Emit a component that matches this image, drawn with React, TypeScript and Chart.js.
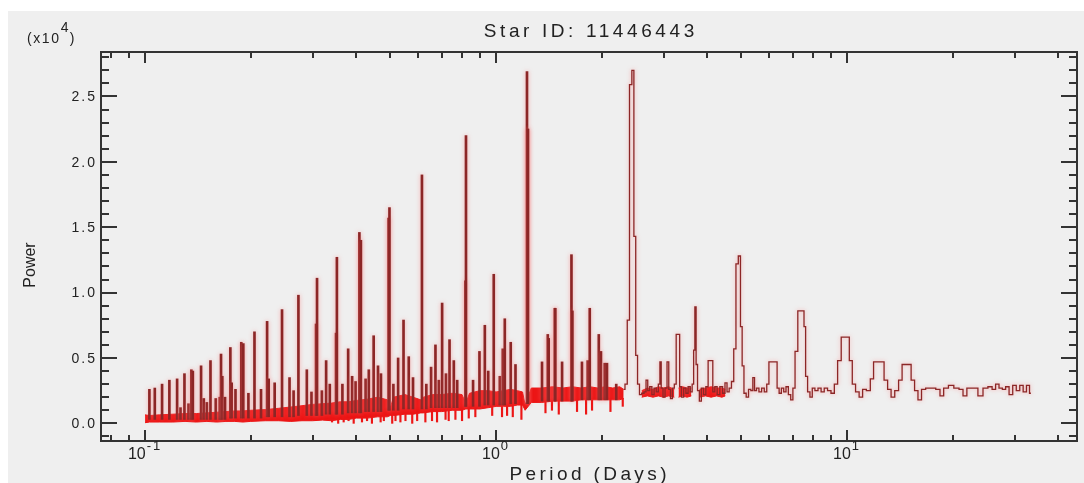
import React, { useEffect, useRef } from 'react';
import { Chart, registerables } from 'chart.js';

Chart.register(...registerables);

// ---------- text ----------
const TITLE = 'Star ID: 11446443';
const X_TITLE = 'Period (Days)';
const Y_TITLE = 'Power';
const Y_MULT_BASE = '(x10';
const Y_MULT_EXP = '4';
const Y_MULT_CLOSE = ')';

// ---------- axes ----------
const X_MIN = 0.0749;
const X_MAX = 45.2;
const Y_MIN = -0.135;
const Y_MAX = 2.84;
const X_MAJOR = [0.1, 1, 10];
const X_MAJOR_BASE = ['10', '10', '10'];
const X_MAJOR_EXP = ['-1', '0', '1'];
const X_MINOR = [0.08, 0.09, 0.2, 0.3, 0.4, 0.5, 0.6, 0.7, 0.8, 0.9, 2, 3, 4, 5, 6, 7, 8, 9, 20, 30, 40];
const Y_MAJOR = [0, 0.5, 1, 1.5, 2, 2.5];
const Y_LABELS = ['0.0', '0.5', '1.0', '1.5', '2.0', '2.5'];
const Y_MINOR = [-0.1, 0.1, 0.2, 0.3, 0.4, 0.6, 0.7, 0.8, 0.9, 1.1, 1.2, 1.3, 1.4, 1.6, 1.7, 1.8, 1.9, 2.1, 2.2, 2.3, 2.4, 2.6, 2.7, 2.8];

// ---------- dense noise band (x10^4) ----------
const bandPeriods = [0.1, 0.103, 0.11, 0.12, 0.13, 0.14, 0.15, 0.16, 0.17, 0.18, 0.19, 0.2, 0.22, 0.24, 0.26, 0.28, 0.3, 0.32, 0.34, 0.36, 0.38, 0.4, 0.43, 0.46, 0.49, 0.5, 0.51, 0.55, 0.58, 0.61, 0.62, 0.66, 0.7, 0.75, 0.8, 0.82, 0.84, 0.9, 0.95, 1.0, 1.05, 1.1, 1.15, 1.19, 1.21, 1.26, 1.35, 1.45, 1.55, 1.65, 1.75, 1.85, 1.95, 2.05, 2.15, 2.25, 2.31];
const bandTop = [0.065, 0.06, 0.065, 0.07, 0.075, 0.075, 0.08, 0.085, 0.09, 0.095, 0.095, 0.1, 0.105, 0.115, 0.125, 0.135, 0.145, 0.15, 0.155, 0.165, 0.165, 0.175, 0.185, 0.2, 0.18, 0.12, 0.2, 0.22, 0.2, 0.18, 0.2, 0.22, 0.22, 0.23, 0.22, 0.15, 0.23, 0.25, 0.25, 0.24, 0.25, 0.26, 0.25, 0.24, 0.14, 0.27, 0.27, 0.28, 0.27, 0.28, 0.27, 0.28, 0.27, 0.28, 0.27, 0.28, 0.26];
const bandBottom = [0.005, 0.01, 0.01, 0.01, 0.015, 0.01, 0.015, 0.01, 0.015, 0.015, 0.01, 0.015, 0.02, 0.02, 0.015, 0.02, 0.02, 0.025, 0.02, 0.03, 0.03, 0.04, 0.04, 0.05, 0.05, 0.06, 0.06, 0.07, 0.07, 0.08, 0.08, 0.09, 0.09, 0.1, 0.1, 0.11, 0.11, 0.11, 0.12, 0.13, 0.13, 0.13, 0.14, 0.14, 0.1, 0.16, 0.16, 0.17, 0.17, 0.17, 0.18, 0.18, 0.18, 0.18, 0.18, 0.18, 0.19];

// noisy patches in the long-period part (null = gap between patches)
const tailBandPeriods = [2.6, 2.7, 2.8, 2.9, 3.0, 3.1, 3.22, 3.27, 3.31, 3.4, 3.5, 3.6, 3.7, 3.8, 3.95, 4.1, 4.25, 4.4, 4.5];
const tailBandTop = [0.25, 0.27, 0.26, 0.28, 0.27, 0.28, 0.26, null, 0.27, 0.28, 0.27, 0.27, null, 0.26, 0.27, 0.28, 0.27, 0.27, 0.26];
const tailBandBottom = [0.2, 0.21, 0.2, 0.21, 0.2, 0.21, 0.2, null, 0.2, 0.21, 0.2, 0.21, null, 0.2, 0.21, 0.2, 0.21, 0.2, 0.21];

// downward noise excursions below the band
const dipPeriods = [0.341, 0.355, 0.368, 0.38, 0.393, 0.415, 0.429, 0.443, 0.469, 0.479, 0.506, 0.517, 0.534, 0.552, 0.577, 0.596, 0.629, 0.657, 0.679, 0.718, 0.733, 0.766, 0.8, 0.836, 0.873, 0.975, 1.04, 1.075, 1.116, 1.181, 1.383, 1.443, 1.509, 1.701, 1.805, 1.877, 2.118, 2.296];
const dipLows = [0.01, 0.0, 0.01, 0.02, 0.0, 0.01, 0.02, 0.0, 0.01, 0.02, 0.0, 0.02, 0.01, 0.02, 0.0, 0.02, 0.01, 0.02, 0.01, 0.03, 0.02, 0.03, 0.02, 0.04, 0.05, 0.06, 0.05, 0.06, 0.05, 0.03, 0.08, 0.1, 0.07, 0.09, 0.07, 0.1, 0.09, 0.13];
const dipTops = [0.03, 0.03, 0.03, 0.04, 0.04, 0.05, 0.05, 0.05, 0.06, 0.06, 0.07, 0.07, 0.08, 0.08, 0.08, 0.09, 0.09, 0.1, 0.1, 0.1, 0.1, 0.11, 0.11, 0.12, 0.12, 0.13, 0.14, 0.14, 0.14, 0.15, 0.17, 0.17, 0.17, 0.18, 0.18, 0.18, 0.19, 0.19];

// ---------- narrow periodogram spikes (x10^4) ----------
const spikePeriods = [0.1029, 0.1066, 0.1118, 0.1173, 0.1234, 0.1262, 0.1295, 0.133, 0.1355, 0.1368, 0.1444, 0.147, 0.15, 0.1536, 0.159, 0.1632, 0.1646, 0.166, 0.169, 0.175, 0.1765, 0.181, 0.188, 0.1905, 0.197, 0.205, 0.214, 0.2227, 0.225, 0.234, 0.2456, 0.258, 0.265, 0.2735, 0.289, 0.298, 0.307, 0.309, 0.319, 0.328, 0.336, 0.35, 0.352, 0.365, 0.379, 0.389, 0.398, 0.408, 0.412, 0.425, 0.434, 0.448, 0.461, 0.47, 0.494, 0.497, 0.51, 0.526, 0.545, 0.564, 0.58, 0.615, 0.633, 0.653, 0.672, 0.687, 0.702, 0.72, 0.737, 0.758, 0.775, 0.818, 0.821, 0.86, 0.897, 0.929, 0.95, 0.985, 1.025, 1.045, 1.059, 1.101, 1.136, 1.225, 1.229, 1.233, 1.352, 1.404, 1.412, 1.47, 1.475, 1.542, 1.64, 1.65, 1.757, 1.824, 1.849, 1.962, 1.99, 2.04, 2.07, 2.2];
const spikePowers = [0.26, 0.27, 0.3, 0.33, 0.34, 0.12, 0.38, 0.15, 0.41, 0.4, 0.44, 0.19, 0.16, 0.48, 0.19, 0.2, 0.53, 0.36, 0.2, 0.58, 0.31, 0.26, 0.62, 0.61, 0.23, 0.7, 0.26, 0.78, 0.34, 0.31, 0.87, 0.35, 0.25, 0.98, 0.41, 0.24, 0.76, 1.11, 0.25, 0.48, 0.3, 0.69, 1.27, 0.3, 0.57, 0.36, 0.32, 1.46, 1.4, 0.34, 0.41, 0.67, 0.44, 0.38, 1.57, 1.65, 0.3, 0.5, 0.79, 0.51, 0.35, 1.9, 0.3, 0.43, 0.6, 0.33, 0.92, 0.38, 0.64, 0.48, 0.33, 1.09, 2.2, 0.33, 0.55, 0.75, 0.4, 1.14, 0.36, 0.57, 0.8, 0.62, 0.45, 2.69, 2.25, 2.25, 0.47, 0.68, 0.65, 0.88, 0.88, 0.47, 1.29, 0.86, 0.47, 0.48, 0.88, 0.68, 0.55, 0.46, 0.46, 0.3];
const spikeBases = [0.03, 0.03, 0.03, 0.03, 0.03, 0.03, 0.03, 0.03, 0.03, 0.03, 0.03, 0.03, 0.03, 0.03, 0.03, 0.03, 0.03, 0.03, 0.03, 0.04, 0.04, 0.04, 0.04, 0.04, 0.04, 0.04, 0.04, 0.05, 0.05, 0.05, 0.05, 0.05, 0.05, 0.06, 0.06, 0.06, 0.06, 0.06, 0.06, 0.07, 0.07, 0.07, 0.07, 0.07, 0.08, 0.08, 0.08, 0.08, 0.08, 0.09, 0.09, 0.09, 0.09, 0.09, 0.1, 0.1, 0.1, 0.1, 0.11, 0.11, 0.11, 0.11, 0.11, 0.12, 0.12, 0.12, 0.12, 0.12, 0.12, 0.12, 0.12, 0.13, 0.13, 0.13, 0.13, 0.14, 0.14, 0.14, 0.14, 0.14, 0.14, 0.15, 0.15, 0.15, 0.15, 0.15, 0.17, 0.17, 0.17, 0.17, 0.17, 0.17, 0.17, 0.17, 0.18, 0.18, 0.18, 0.18, 0.18, 0.18, 0.18, 0.18];

// ---------- long-period stepped tail (x10^4) ----------
const tailPeriods = [2.31, 2.35, 2.38, 2.42, 2.455, 2.485, 2.515, 2.545, 2.58, 2.62, 2.66, 2.69, 2.72, 2.76, 2.8, 2.84, 2.88, 2.92, 2.94, 2.97, 3.01, 3.05, 3.09, 3.12, 3.16, 3.2, 3.24, 3.28, 3.32, 3.35, 3.4, 3.45, 3.5, 3.55, 3.6, 3.64, 3.67, 3.7, 3.73, 3.77, 3.82, 3.87, 3.93, 3.99, 4.05, 4.12, 4.17, 4.23, 4.3, 4.38, 4.46, 4.52, 4.58, 4.65, 4.72, 4.79, 4.86, 4.94, 5.0, 5.05, 5.12, 5.2, 5.28, 5.36, 5.42, 5.48, 5.56, 5.66, 5.76, 5.86, 5.95, 6.03, 6.28, 6.36, 6.45, 6.55, 6.65, 6.75, 6.86, 6.96, 7.06, 7.16, 7.32, 7.5, 7.58, 7.66, 7.78, 7.9, 8.02, 8.18, 8.35, 8.52, 8.7, 8.9, 9.1, 9.3, 9.5, 9.75, 10.05, 10.25, 10.45, 10.7, 10.95, 11.2, 11.5, 11.8, 12.0, 12.6, 12.9, 13.2, 13.5, 13.85, 14.2, 14.5, 15.05, 15.4, 15.75, 16.1, 16.5, 17.0, 17.6, 18.2, 18.6, 19.1, 19.8, 20.5, 21.2, 21.6, 22.3, 23.2, 24.0, 24.8, 25.6, 26.2, 26.8, 27.4, 28.0, 28.6, 29.3, 30.0, 30.7, 31.4, 32.1, 32.8, 33.4];
const tailPowers = [0.26, 0.3, 0.79, 2.59, 2.7, 1.43, 0.52, 0.3, 0.22, 0.23, 0.24, 0.33, 0.25, 0.28, 0.22, 0.27, 0.24, 0.3, 0.47, 0.27, 0.2, 0.27, 0.47, 0.26, 0.19, 0.27, 0.3, 0.68, 0.68, 0.28, 0.2, 0.27, 0.23, 0.28, 0.24, 0.3, 0.56, 0.89, 0.45, 0.25, 0.17, 0.27, 0.22, 0.28, 0.48, 0.48, 0.24, 0.28, 0.22, 0.28, 0.23, 0.31, 0.24, 0.27, 0.32, 0.57, 1.22, 1.28, 0.74, 0.44, 0.23, 0.2, 0.26, 0.25, 0.35, 0.25, 0.27, 0.24, 0.27, 0.24, 0.3, 0.47, 0.47, 0.27, 0.23, 0.27, 0.24, 0.28, 0.22, 0.18, 0.27, 0.55, 0.86, 0.86, 0.74, 0.36, 0.24, 0.2, 0.27, 0.25, 0.27, 0.24, 0.27, 0.25, 0.23, 0.3, 0.48, 0.66, 0.66, 0.48, 0.3, 0.24, 0.2, 0.26, 0.25, 0.34, 0.47, 0.47, 0.33, 0.26, 0.2, 0.25, 0.33, 0.45, 0.45, 0.33, 0.25, 0.18, 0.26, 0.27, 0.27, 0.26, 0.21, 0.27, 0.29, 0.27, 0.26, 0.21, 0.27, 0.27, 0.21, 0.27, 0.28, 0.26, 0.3, 0.27, 0.26, 0.28, 0.22, 0.29, 0.25, 0.29, 0.24, 0.29, 0.23];

// ---------- styles ----------
const FONT = '"Liberation Sans", Arial, Helvetica, sans-serif';
const BAND_RED = '#ec1616';
const LINE_RED = '#8c2626';
const TEXT = '#222222';
const AXIS = '#333333';
const PANEL = '#efefef';

const backgroundPlugin = {
  id: 'panelBackground',
  beforeDraw(chart: any) {
    const { ctx, width, height } = chart;
    ctx.save();
    ctx.fillStyle = '#ffffff';
    ctx.fillRect(0, 0, width, height);
    ctx.fillStyle = PANEL;
    ctx.fillRect(8, 11, width - 8, height - 11);
    ctx.restore();
  },
};

const glowPlugin = {
  id: 'lineGlow',
  beforeDatasetDraw(chart: any, args: any) {
    const ds = chart.data.datasets[args.index];
    if (ds.glow) {
      chart.ctx.save();
      chart.ctx.shadowColor = 'rgba(255,110,110,0.55)';
      chart.ctx.shadowBlur = 4;
    }
  },
  afterDatasetDraw(chart: any, args: any) {
    const ds = chart.data.datasets[args.index];
    if (ds.glow) chart.ctx.restore();
  },
};

const setSpacing = (ctx: any, px: number) => {
  if ('letterSpacing' in ctx) ctx.letterSpacing = px + 'px';
};

const axesPlugin = {
  id: 'idlAxes',
  afterDatasetsDraw(chart: any) {
    const { ctx, chartArea, scales } = chart;
    const { left, right, top, bottom } = chartArea;
    const xs = scales.x;
    const ys = scales.y;
    ctx.save();
    ctx.strokeStyle = AXIS;
    ctx.lineWidth = 2;
    ctx.strokeRect(left, top, right - left, bottom - top);

    ctx.beginPath();
    Y_MAJOR.forEach((v) => {
      const p = Math.round(ys.getPixelForValue(v));
      ctx.moveTo(left, p); ctx.lineTo(left + 16, p);
      ctx.moveTo(right, p); ctx.lineTo(right - 16, p);
    });
    Y_MINOR.forEach((v) => {
      const p = Math.round(ys.getPixelForValue(v));
      ctx.moveTo(left, p); ctx.lineTo(left + 8, p);
      ctx.moveTo(right, p); ctx.lineTo(right - 8, p);
    });
    X_MAJOR.forEach((v) => {
      const p = Math.round(xs.getPixelForValue(v));
      ctx.moveTo(p, bottom); ctx.lineTo(p, bottom - 11);
      ctx.moveTo(p, top); ctx.lineTo(p, top + 11);
    });
    X_MINOR.forEach((v) => {
      const p = Math.round(xs.getPixelForValue(v));
      ctx.moveTo(p, bottom); ctx.lineTo(p, bottom - 6);
      ctx.moveTo(p, top); ctx.lineTo(p, top + 6);
    });
    ctx.stroke();

    ctx.fillStyle = TEXT;
    // y tick labels
    ctx.font = '14px ' + FONT;
    setSpacing(ctx, 2);
    ctx.textAlign = 'right';
    ctx.textBaseline = 'middle';
    Y_MAJOR.forEach((v, i) => {
      ctx.fillText(Y_LABELS[i], left - 6 + 2, ys.getPixelForValue(v) + 1);
    });

    // x tick labels: 10 with superscript exponent
    ctx.textAlign = 'left';
    ctx.textBaseline = 'alphabetic';
    X_MAJOR.forEach((v, i) => {
      const p = xs.getPixelForValue(v);
      ctx.font = '16px ' + FONT;
      setSpacing(ctx, 0);
      const w1 = ctx.measureText(X_MAJOR_BASE[i]).width;
      ctx.font = '13px ' + FONT;
      setSpacing(ctx, 2);
      const w2 = ctx.measureText(X_MAJOR_EXP[i]).width;
      const start = p - (w1 + 1 + w2) / 2;
      ctx.font = '16px ' + FONT;
      setSpacing(ctx, 0);
      ctx.fillText(X_MAJOR_BASE[i], start, bottom + 17.5);
      ctx.font = '13px ' + FONT;
      setSpacing(ctx, 2);
      ctx.fillText(X_MAJOR_EXP[i], start + w1 + 1, bottom + 8.5);
    });

    // titles
    const cx = (left + right) / 2;
    ctx.textAlign = 'center';
    ctx.font = '19px ' + FONT;
    setSpacing(ctx, 3.6);
    ctx.fillText(TITLE, cx + 1.8, 37);
    setSpacing(ctx, 3.4);
    ctx.fillText(X_TITLE, cx + 0.7, 480);

    // y multiplier
    ctx.textAlign = 'left';
    ctx.font = '14px ' + FONT;
    setSpacing(ctx, 1.6);
    ctx.fillText(Y_MULT_BASE, 27, 42.5);
    const wb = ctx.measureText(Y_MULT_BASE).width;
    ctx.font = '14px ' + FONT;
    setSpacing(ctx, 0);
    ctx.fillText(Y_MULT_EXP, 27 + wb, 31.5);
    ctx.fillText(Y_MULT_CLOSE, 27 + wb + 9, 42.5);

    // y title
    ctx.save();
    ctx.translate(31, 265);
    ctx.rotate(-Math.PI / 2);
    ctx.font = '16px ' + FONT;
    setSpacing(ctx, 0);
    ctx.textAlign = 'center';
    ctx.textBaseline = 'middle';
    ctx.fillText(Y_TITLE, 0, 0);
    ctx.restore();

    ctx.restore();
  },
};

export default function App() {
  const ref = useRef<HTMLCanvasElement | null>(null);

  useEffect(() => {
    const canvas = ref.current;
    if (!canvas) return;
    const chart = new Chart(canvas, {
      type: 'line',
      data: {
        datasets: [
          {
            type: 'line',
            label: 'band top',
            data: bandPeriods.map((p, i) => ({ x: p, y: bandTop[i] })),
            borderColor: BAND_RED,
            backgroundColor: BAND_RED,
            borderWidth: 1,
            pointRadius: 0,
            fill: '+1',
            order: 5,
          } as any,
          {
            type: 'line',
            label: 'band bottom',
            data: bandPeriods.map((p, i) => ({ x: p, y: bandBottom[i] })),
            borderColor: BAND_RED,
            borderWidth: 1,
            pointRadius: 0,
            fill: false,
            order: 5,
          },
          {
            type: 'line',
            label: 'tail band top',
            data: tailBandPeriods.map((p, i) => ({ x: p, y: tailBandTop[i] })),
            borderColor: BAND_RED,
            backgroundColor: BAND_RED,
            borderWidth: 1,
            pointRadius: 0,
            spanGaps: false,
            fill: '+1',
            order: 5,
          } as any,
          {
            type: 'line',
            label: 'tail band bottom',
            data: tailBandPeriods.map((p, i) => ({ x: p, y: tailBandBottom[i] })),
            borderColor: BAND_RED,
            borderWidth: 1,
            pointRadius: 0,
            spanGaps: false,
            fill: false,
            order: 5,
          } as any,
          {
            type: 'bar',
            label: 'dips',
            data: dipPeriods.map((p, i) => ({ x: p, y: [dipLows[i], dipTops[i]] })),
            backgroundColor: BAND_RED,
            barThickness: 1.5,
            stack: 'one',
            order: 4,
          } as any,
          {
            type: 'line',
            label: 'tail',
            data: tailPeriods.map((p, i) => ({ x: p, y: tailPowers[i] })),
            borderColor: LINE_RED,
            borderWidth: 1.3,
            pointRadius: 0,
            stepped: 'middle',
            fill: false,
            glow: true,
            order: 2,
          } as any,
          {
            type: 'bar',
            label: 'spikes',
            data: spikePeriods.map((p, i) => ({ x: p, y: [spikeBases[i], spikePowers[i]] })),
            backgroundColor: LINE_RED,
            barThickness: 2,
            stack: 'one',
            glow: true,
            order: 1,
          } as any,
        ],
      },
      options: {
        animation: false,
        responsive: false,
        maintainAspectRatio: false,
        layout: { padding: { left: 101, right: 7, top: 52, bottom: 42 } },
        scales: {
          x: { type: 'logarithmic', min: X_MIN, max: X_MAX, display: false, offset: false },
          y: { type: 'linear', min: Y_MIN, max: Y_MAX, display: false, stacked: false },
        },
        plugins: {
          legend: { display: false },
          tooltip: { enabled: false },
          title: { display: false },
        },
      },
      plugins: [backgroundPlugin, glowPlugin, axesPlugin],
    } as any);
    return () => chart.destroy();
  }, []);

  return (
    <div style={{ position: 'absolute', left: 0, top: 0, width: 1084, height: 483 }}>
      <canvas ref={ref} width={1084} height={483} style={{ display: 'block', width: 1084, height: 483 }} />
    </div>
  );
}
